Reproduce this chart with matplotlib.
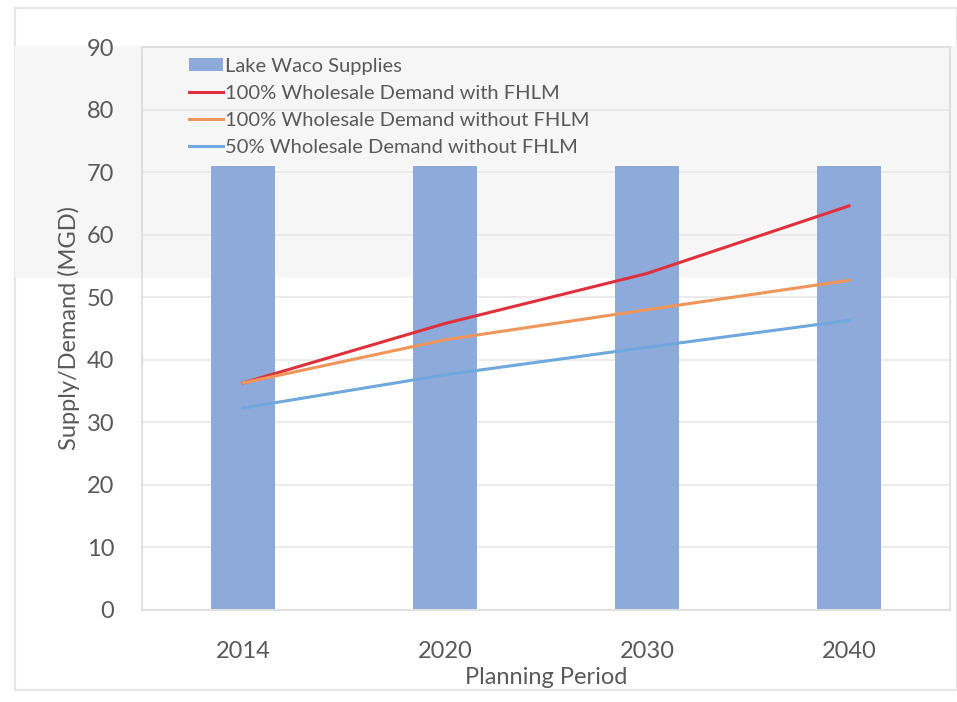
import matplotlib
matplotlib.use("Agg")
import matplotlib.pyplot as plt
from matplotlib.patches import Rectangle
import numpy as np

plt.rcParams['font.family'] = ['Lato', 'DejaVu Sans']

# data
periods = ["2014", "2020", "2030", "2040"]
supply = [71, 71, 71, 71]
demand_100_fhlm = [36.3, 45.8, 53.8, 64.6]
demand_100_no_fhlm = [36.3, 43.2, 48.0, 52.7]
demand_50_no_fhlm = [32.3, 37.6, 42.0, 46.3]

text_col = "#595959"

fig = plt.figure(figsize=(9.57, 7.02), dpi=100)

# faint outer frame and the washed-out grey band of the scan
fig.patches.append(Rectangle((15 / 957, 1 - 690 / 702), 942 / 957, 682 / 702,
                             transform=fig.transFigure, facecolor="white",
                             edgecolor="#e6e6e6", lw=1.5, zorder=-3))
fig.patches.append(Rectangle((15 / 957, 1 - 278 / 702), 942 / 957, 232 / 702,
                             transform=fig.transFigure, facecolor="#f6f6f6",
                             edgecolor="none", zorder=-2))

ax = fig.add_axes([142 / 957, 1 - 610 / 702, 808 / 957, 563 / 702])
ax.patch.set_alpha(0)

x = np.arange(len(periods))
bars = ax.bar(x, supply, width=0.32, color="#8eaadb", label="Lake Waco Supplies", zorder=2)
l1, = ax.plot(x, demand_100_fhlm, color="#e0303c", lw=2.2,
              label="100% Wholesale Demand with FHLM", zorder=3)
l2, = ax.plot(x, demand_100_no_fhlm, color="#f0955a", lw=2.2,
              label="100% Wholesale Demand without FHLM", zorder=3)
l3, = ax.plot(x, demand_50_no_fhlm, color="#6fa8dc", lw=2.2,
              label="50% Wholesale Demand without FHLM", zorder=3)

ax.set_xlim(-0.5, 3.5)
ax.set_ylim(0, 90)
ax.set_yticks(range(0, 91, 10))
ax.set_xticks(x)
ax.set_xticklabels(periods)
ax.yaxis.grid(True, color="#e8e8e8", lw=1.2, zorder=0)
ax.set_axisbelow(True)
ax.tick_params(length=0, labelsize=17, colors=text_col)
ax.tick_params(axis="y", pad=20)
ax.tick_params(axis="x", pad=22)
for side in ["left", "right", "top", "bottom"]:
    ax.spines[side].set_color("#e0e0e0")
    ax.spines[side].set_linewidth(1.5)

ax.set_xlabel("Planning Period", fontsize=17, color=text_col, labelpad=4)
ax.set_ylabel("Supply/Demand (MGD)", fontsize=17, color=text_col, labelpad=5)

leg = ax.legend([bars, l1, l2, l3], [h.get_label() for h in [bars, l1, l2, l3]],
                loc="upper left", bbox_to_anchor=(0.048, 0.995), frameon=False,
                fontsize=14.5, handlelength=1.7, handleheight=0.6, handletextpad=0.1,
                labelspacing=0.5, borderaxespad=0)
for t in leg.get_texts():
    t.set_color(text_col)

fig.savefig("out.png", dpi=100)
